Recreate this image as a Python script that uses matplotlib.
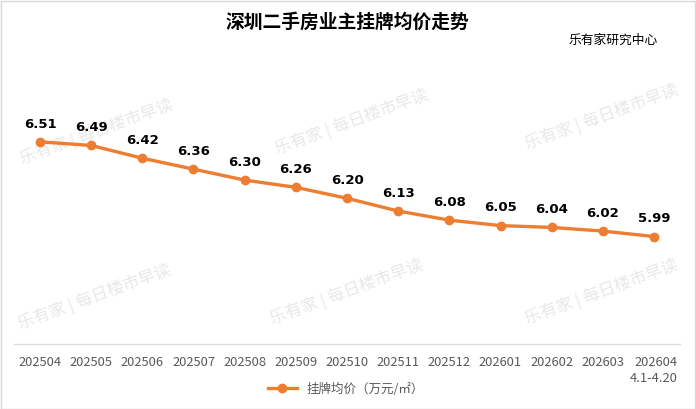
import matplotlib
matplotlib.use("Agg")
import matplotlib.pyplot as plt
from matplotlib.lines import Line2D

plt.rcParams['font.family'] = ['Noto Sans CJK SC', 'DejaVu Sans']

months = ["202504", "202505", "202506", "202507", "202508", "202509", "202510",
          "202511", "202512", "202601", "202602", "202603", "202604"]
tick_labels = months[:-1] + ["202604\n4.1-4.20"]
prices = [6.51, 6.49, 6.42, 6.36, 6.30, 6.26, 6.20, 6.13, 6.08, 6.05, 6.04, 6.02, 5.99]
title = "深圳二手房业主挂牌均价走势"
source = "乐有家研究中心"
series_name = "挂牌均价（万元/㎡）"
watermark = "乐有家 | 每日楼市早读"

W, H = 696, 409
fig = plt.figure(figsize=(W / 100, H / 100), dpi=100)
fig.patch.set_facecolor("white")

# watermarks (behind everything)
wm_pos = [(97, 132), (352, 122), (602, 117), (95, 297), (347, 292), (602, 292)]
for px, py in wm_pos:
    fig.text(px / W, 1 - py / H, watermark, fontsize=12, color="#e8e8e8",
             rotation=20, ha="center", va="center", zorder=-5)

left, right = 14.4 / W, 679.6 / W
bottom, top = 1 - 344 / H, 1 - 89 / H
ax = fig.add_axes([left, bottom, right - left, top - bottom])
ax.set_facecolor("none")
ax.set_zorder(2)

orange = "#ED7D31"
x = list(range(len(months)))
ax.plot(x, prices, color=orange, lw=2.4, marker="o", ms=6, zorder=3)
for xi, v in zip(x, prices):
    ax.annotate(f"{v:.2f}", (xi, v), xytext=(0, 8), textcoords="offset points",
                ha="center", va="bottom", fontsize=9.5, fontweight="bold",
                color="black", family=['DejaVu Sans'])

ax.set_xlim(-0.5, len(months) - 0.5)
ax.set_ylim(5.4, 6.8)
ax.set_yticks([])
ax.set_xticks(x)
ax.set_xticklabels(tick_labels, fontsize=9.3, color="#595959", linespacing=1.3)
xl = ax.get_xticklabels()
xl[-1].set_multialignment("right")
ax.tick_params(axis="x", length=0, pad=9)
for s in ["top", "right", "left"]:
    ax.spines[s].set_visible(False)
ax.spines["bottom"].set_color("#d9d9d9")
ax.spines["bottom"].set_linewidth(1)

fig.text(347 / W, 1 - 22 / H, title, fontsize=13.5, fontweight="bold",
         ha="center", va="center", color="black")
fig.text(613 / W, 1 - 40 / H, source, fontsize=9.2, ha="center", va="center",
         color="black")

handle = Line2D([0], [0], color=orange, lw=2.4, marker="o", ms=6)
fig.legend([handle], [series_name], loc="center", bbox_to_anchor=(346 / W, 1 - 389 / H),
           frameon=False, fontsize=9, handlelength=2.3, labelcolor="#595959")

border = plt.Rectangle((0.5 / W, 0.5 / H), 1 - 1.5 / W, 1 - 1.5 / H, transform=fig.transFigure,
                       fill=False, edgecolor="#d9d9d9", lw=1)
fig.add_artist(border)

fig.savefig("out.png", dpi=100)
